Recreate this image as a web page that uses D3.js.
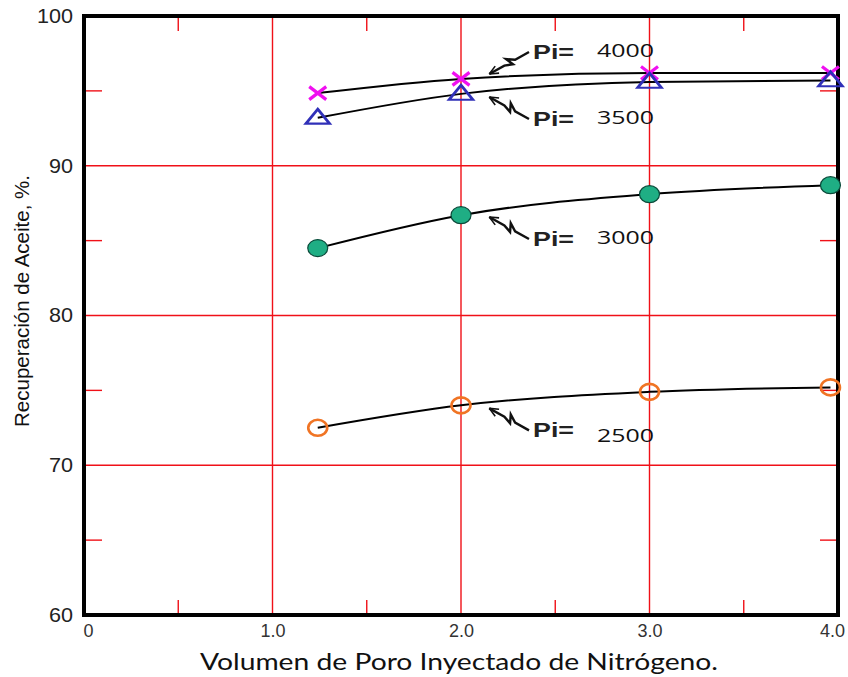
<!DOCTYPE html>
<html>
<head>
<meta charset="utf-8">
<script src="https://cdn.jsdelivr.net/npm/d3@7"></script>
<style>
  body { margin: 0; background: #fff; }
  svg { display: block; }
</style>
</head>
<body>
<div id="chart"></div>
<script>
// values
var xValues = [1.24, 2.0, 3.0, 3.96];
var pi4000 = [94.85, 95.8, 96.2, 96.2];
var pi3500 = [93.2, 94.8, 95.6, 95.7];
var pi3000 = [84.5, 86.7, 88.1, 88.7];
var pi2500 = [72.5, 74.0, 74.9, 75.2];
var seriesNames = ["4000", "3500", "3000", "2500"];
var xTicks = [0, 1, 2, 3, 4];
var xTickLabels = ["0", "1.0", "2.0", "3.0", "4.0"];
var yTicks = [60, 70, 80, 90, 100];
var xMinor = [0.5, 1.5, 2.5, 3.5];
var yMinor = [65, 75, 85, 95];

var W = 848, H = 677;
var m = {left: 84, top: 16, right: 10, bottom: 62};

var svg = d3.select("#chart").append("svg")
    .attr("width", W).attr("height", H);

var x = d3.scaleLinear().domain([0, 4]).range([m.left, W - m.right]);
var y = d3.scaleLinear().domain([60, 100]).range([H - m.bottom, m.top]);

var red = "#f01018";
var gw = 1.4;
var g = svg.append("g");

// major grid
g.selectAll(".gx").data([1, 2, 3]).enter().append("line")
    .attr("x1", function(d){ return x(d); }).attr("x2", function(d){ return x(d); })
    .attr("y1", y(100)).attr("y2", y(60))
    .attr("stroke", red).attr("stroke-width", gw);
g.selectAll(".gy").data([70, 80, 90]).enter().append("line")
    .attr("x1", x(0)).attr("x2", x(4))
    .attr("y1", function(d){ return y(d); }).attr("y2", function(d){ return y(d); })
    .attr("stroke", red).attr("stroke-width", gw);

// minor ticks (inside, top/bottom and left/right)
xMinor.forEach(function(d){
    g.append("line").attr("x1", x(d)).attr("x2", x(d))
        .attr("y1", y(100)).attr("y2", y(100) + 15)
        .attr("stroke", red).attr("stroke-width", gw);
    g.append("line").attr("x1", x(d)).attr("x2", x(d))
        .attr("y1", y(60)).attr("y2", y(60) - 15)
        .attr("stroke", red).attr("stroke-width", gw);
});
yMinor.forEach(function(d){
    g.append("line").attr("x1", x(0)).attr("x2", x(0) + 18)
        .attr("y1", y(d)).attr("y2", y(d))
        .attr("stroke", red).attr("stroke-width", gw);
    g.append("line").attr("x1", x(4)).attr("x2", x(4) - 18)
        .attr("y1", y(d)).attr("y2", y(d))
        .attr("stroke", red).attr("stroke-width", gw);
});

// frame
g.append("rect")
    .attr("x", x(0)).attr("y", y(100))
    .attr("width", x(4) - x(0)).attr("height", y(60) - y(100))
    .attr("fill", "none").attr("stroke", "#000").attr("stroke-width", 4);

// tick labels
var yAxis = d3.axisLeft(y).tickValues(yTicks).tickSize(0).tickPadding(11)
    .tickFormat(d3.format("d"));
var ya = svg.append("g").attr("transform", "translate(" + x(0) + ",0)").call(yAxis);
ya.select(".domain").remove();
ya.selectAll("text")
    .attr("font-family", "'Liberation Sans', Arial, sans-serif")
    .attr("font-size", 20).attr("fill", "#222")
    .attr("textLength", function(d){ return d === 100 ? 36 : 24; })
    .attr("lengthAdjust", "spacingAndGlyphs");

var xAxis = d3.axisBottom(x).tickValues(xTicks).tickSize(0).tickPadding(9)
    .tickFormat(function(d, i){ return xTickLabels[i]; });
var xa = svg.append("g").attr("transform", "translate(0," + y(60) + ")").call(xAxis);
xa.select(".domain").remove();
xa.selectAll("text")
    .attr("font-family", "'Liberation Sans Narrow', 'Liberation Sans', Arial, sans-serif")
    .attr("font-size", 18).attr("fill", "#333")
    .attr("dx", function(d){ return d === 0 ? 4 : (d === 4 ? -6 : 0); });

// axis titles
svg.append("text")
    .attr("x", 200).attr("y", 670)
    .attr("font-family", "Lato, 'Open Sans', sans-serif")
    .attr("font-size", 23).attr("fill", "#111")
    .attr("textLength", 518).attr("lengthAdjust", "spacingAndGlyphs")
    .text("Volumen de Poro Inyectado de Nitrógeno.");
svg.append("text")
    .attr("transform", "translate(29,427) rotate(-90)")
    .attr("font-family", "'Liberation Sans Narrow', 'Liberation Sans', Arial, sans-serif")
    .attr("font-size", 20).attr("fill", "#111")
    .attr("textLength", 252).attr("lengthAdjust", "spacingAndGlyphs")
    .text("Recuperación de Aceite, %.");

// curves
var allSeries = [pi4000, pi3500, pi3000, pi2500];
var line = d3.line()
    .x(function(d, i){ return x(xValues[i]); })
    .y(function(d){ return y(d); })
    .curve(d3.curveMonotoneX);
allSeries.forEach(function(s){
    svg.append("path").attr("d", line(s))
        .attr("fill", "none").attr("stroke", "#000").attr("stroke-width", 2);
});

// markers
var mk = svg.append("g");
pi4000.forEach(function(v, i){
    var cx = x(xValues[i]), cy = y(v), rx = 8.5, ry = 6.5;
    mk.append("path")
        .attr("d", "M" + (cx - rx) + "," + (cy - ry) + "L" + (cx + rx) + "," + (cy + ry) +
                   "M" + (cx - rx) + "," + (cy + ry) + "L" + (cx + rx) + "," + (cy - ry))
        .attr("stroke", "#f010f0").attr("stroke-width", 3.2);
});
pi3500.forEach(function(v, i){
    var cx = x(xValues[i]), cy = y(v);
    var tri = d3.symbol().type(d3.symbolTriangle).size(170);
    mk.append("path").attr("d", tri())
        .attr("transform", "translate(" + cx + "," + (cy + 1) + ") scale(1.2,0.85)")
        .attr("fill", "none").attr("stroke", "#3030b8").attr("stroke-width", 2.6);
});
pi3000.forEach(function(v, i){
    mk.append("ellipse").attr("cx", x(xValues[i])).attr("cy", y(v))
        .attr("rx", 10).attr("ry", 8.5)
        .attr("fill", "#1fae84").attr("stroke", "#0b4a3a").attr("stroke-width", 1.2);
});
pi2500.forEach(function(v, i){
    mk.append("ellipse").attr("cx", x(xValues[i])).attr("cy", y(v))
        .attr("rx", 9.5).attr("ry", 8)
        .attr("fill", "none").attr("stroke", "#f07424").attr("stroke-width", 2.6);
});

// annotations: arrow tip near curve just right of x=2, label offset up or down
function curveY(s, xv){
    var k = xValues.findIndex(function(d){ return d > xv; });
    var t = (xv - xValues[k - 1]) / (xValues[k] - xValues[k - 1]);
    return s[k - 1] + t * (s[k] - s[k - 1]);
}
var annoDir = [-1, 1, 1, 1];
seriesNames.forEach(function(name, i){
    var s = allSeries[i];
    var tx = x(2.15), ty = y(curveY(s, 2.15)) + (annoDir[i] < 0 ? -4 : 5);
    var ly = ty + annoDir[i] * 22;
    var lx = 529;
    // zigzag shaft
    var dx = tx - lx, dy = ty - ly;
    var len = Math.sqrt(dx * dx + dy * dy);
    var ux = dx / len, uy = dy / len, qx = -uy, qy = ux;
    var a = [lx + ux * len * 0.35, ly + uy * len * 0.35];
    var b = [lx + ux * len * 0.52 + qx * 5, ly + uy * len * 0.52 + qy * 5];
    var c = [lx + ux * len * 0.44 - qx * 3, ly + uy * len * 0.44 - qy * 3];
    var d = [lx + ux * len * 0.62, ly + uy * len * 0.62];
    svg.append("path")
        .attr("d", "M" + lx + "," + ly + "L" + a + "L" + b + "L" + c + "L" + d + "L" + tx + "," + ty)
        .attr("fill", "none").attr("stroke", "#111").attr("stroke-width", 2.4)
        .attr("stroke-linejoin", "miter");
    // arrow head
    var hl = 9, hw = 4;
    svg.append("path")
        .attr("d", "M" + tx + "," + ty +
            "L" + (tx - ux * hl + qx * hw) + "," + (ty - uy * hl + qy * hw) +
            "M" + tx + "," + ty +
            "L" + (tx - ux * hl - qx * hw) + "," + (ty - uy * hl - qy * hw))
        .attr("fill", "none").attr("stroke", "#111").attr("stroke-width", 1.6);
    svg.append("text").attr("x", lx + 4).attr("y", ly + 7)
        .attr("font-family", "'Liberation Sans', Arial, sans-serif")
        .attr("font-weight", "bold").attr("font-size", 20).attr("fill", "#222")
        .attr("textLength", 41).attr("lengthAdjust", "spacingAndGlyphs")
        .text("Pi=");
    svg.append("text").attr("x", 597).attr("y", ly + (i === 3 ? 12 : 5))
        .attr("font-family", "'Open Sans', sans-serif")
        .attr("font-size", 19).attr("fill", "#111")
        .attr("textLength", 57).attr("lengthAdjust", "spacingAndGlyphs")
        .text(name);
});
</script>
</body>
</html>
